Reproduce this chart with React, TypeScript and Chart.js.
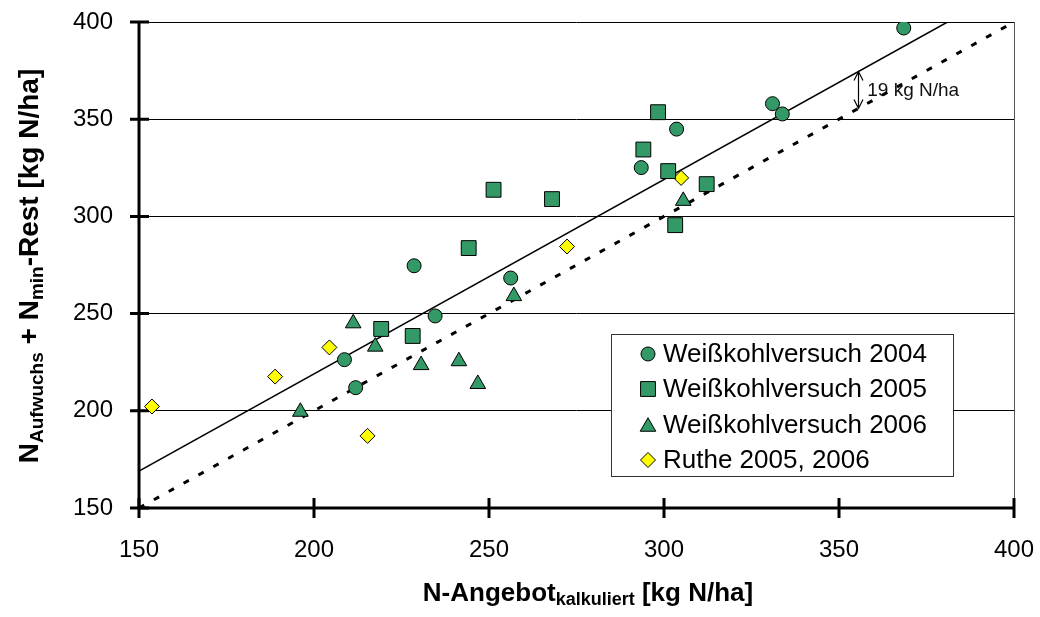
import React, { useEffect, useRef } from 'react';
import { Chart, registerables } from 'chart.js';

Chart.register(...registerables);

const FONT = '"Liberation Sans", Arial, Helvetica, sans-serif';

const axisMin = 150;
const axisMax = 400;
const axisStep = 50;

const seriesLabels = [
  'Weißkohlversuch 2004',
  'Weißkohlversuch 2005',
  'Weißkohlversuch 2006',
  'Ruthe 2005, 2006',
];

const kohl2004X = [368.5, 331.0, 333.8, 303.6, 293.5, 228.6, 256.2, 234.6, 208.7, 211.9];
const kohl2004Y = [396.9, 358.0, 352.7, 344.9, 325.1, 274.6, 268.3, 248.8, 226.3, 211.9];

const kohl2005X = [298.3, 294.1, 301.2, 312.2, 251.3, 268.0, 303.2, 244.2, 219.2, 228.2];
const kohl2005Y = [353.6, 334.4, 323.3, 316.6, 313.7, 308.9, 295.5, 283.7, 242.1, 238.5];

const kohl2006X = [305.5, 257.1, 211.2, 217.5, 230.6, 241.4, 246.8, 196.1];
const kohl2006Y = [308.0, 259.0, 245.0, 233.0, 223.5, 225.5, 213.8, 199.5];

const rutheX = [304.9, 272.3, 204.4, 188.9, 153.7, 215.3];
const rutheY = [319.8, 284.5, 232.6, 217.6, 202.2, 187.1];

const oneToOneX = [150, 400];
const oneToOneY = [150, 400];

const offsetLineX = [150, 381];
const offsetLineY = [169, 400];

const offsetValue = 19;
const offsetArrowX = 355.5;
const offsetLabel = '19 kg N/ha';

const GREEN = '#339966';
const YELLOW = '#FFFF00';

const zip = (xs: number[], ys: number[]) => xs.map((x, i) => ({ x, y: ys[i] }));

const markerStyles = ['circle', 'rect', 'triangle', 'rectRot'];
const markerRadii = [7, 10.5, 9, 7.5];
const markerFills = [GREEN, GREEN, GREEN, YELLOW];

function drawMarker(ctx: CanvasRenderingContext2D, style: string, x: number, y: number, r: number, fill: string) {
  ctx.save();
  ctx.beginPath();
  if (style === 'circle') {
    ctx.arc(x, y, r, 0, Math.PI * 2);
  } else if (style === 'rect') {
    const s = r * Math.SQRT1_2;
    ctx.rect(x - s, y - s, 2 * s, 2 * s);
  } else if (style === 'triangle') {
    const yy = y + r * 0.25;
    const h = r * Math.sin(Math.PI * 2 / 3);
    ctx.moveTo(x, yy - r);
    ctx.lineTo(x + h, yy + r * 0.5);
    ctx.lineTo(x - h, yy + r * 0.5);
    ctx.closePath();
  } else {
    ctx.moveTo(x, y - r);
    ctx.lineTo(x + r, y);
    ctx.lineTo(x, y + r);
    ctx.lineTo(x - r, y);
    ctx.closePath();
  }
  ctx.fillStyle = fill;
  ctx.fill();
  ctx.lineWidth = 1;
  ctx.strokeStyle = '#000';
  ctx.stroke();
  ctx.restore();
}

function drawRuns(ctx: CanvasRenderingContext2D, runs: [string, boolean][], x: number, y: number, mainSize: number, subSize: number, subShift: number, measureOnly = false) {
  let cx = x;
  for (const [t, sub] of runs) {
    ctx.font = `bold ${sub ? subSize : mainSize}px ${FONT}`;
    if (!measureOnly) ctx.fillText(t, cx, sub ? y + subShift : y);
    cx += ctx.measureText(t).width;
  }
  return cx - x;
}

const zeroPadding = (s: any) => {
  s.paddingTop = 0;
  s.paddingBottom = 0;
  s.paddingLeft = 0;
  s.paddingRight = 0;
};

const decorPlugin = {
  id: 'decor',
  beforeDatasetsDraw(chart: any) {
    const { ctx, chartArea: a, scales } = chart;
    const xs = scales.x;
    const ys = scales.y;
    ctx.save();
    ctx.strokeStyle = '#555';
    ctx.lineWidth = 1;
    ctx.beginPath();
    ctx.moveTo(a.right + 0.5, a.top);
    ctx.lineTo(a.right + 0.5, a.bottom);
    ctx.stroke();

    ctx.fillStyle = '#111';
    ctx.font = `19px ${FONT}`;
    ctx.textAlign = 'left';
    ctx.textBaseline = 'alphabetic';
    const ax = xs.getPixelForValue(offsetArrowX);
    const yTop = ys.getPixelForValue(offsetArrowX + offsetValue);
    const yBot = ys.getPixelForValue(offsetArrowX);
    ctx.fillText(offsetLabel, ax + 9, (yTop + yBot) / 2 + 6);

    ctx.strokeStyle = '#000';
    ctx.lineWidth = 3;
    ctx.beginPath();
    ctx.moveTo(a.left, a.top);
    ctx.lineTo(a.left, a.bottom);
    ctx.moveTo(a.left - 1.5, a.bottom);
    ctx.lineTo(a.right, a.bottom);
    ctx.stroke();
    ctx.beginPath();
    for (let v = axisMin; v <= axisMax; v += axisStep) {
      const py = ys.getPixelForValue(v);
      ctx.moveTo(a.left - 9, py);
      ctx.lineTo(a.left + 10, py);
      const px = xs.getPixelForValue(v);
      ctx.moveTo(px, a.bottom - 10);
      ctx.lineTo(px, a.bottom + 10);
    }
    ctx.stroke();
    ctx.restore();
  },
  afterDatasetsDraw(chart: any) {
    const { ctx, scales } = chart;
    const xs = scales.x;
    const ys = scales.y;
    ctx.save();

    const ax = Math.round(xs.getPixelForValue(offsetArrowX)) + 0.5;
    const yTop = ys.getPixelForValue(offsetArrowX + offsetValue);
    const yBot = ys.getPixelForValue(offsetArrowX);
    ctx.strokeStyle = '#000';
    ctx.lineWidth = 1.2;
    ctx.beginPath();
    ctx.moveTo(ax, yTop);
    ctx.lineTo(ax, yBot);
    ctx.moveTo(ax - 4.5, yTop + 9);
    ctx.lineTo(ax, yTop);
    ctx.lineTo(ax + 4.5, yTop + 9);
    ctx.moveTo(ax - 4.5, yBot - 9);
    ctx.lineTo(ax, yBot);
    ctx.lineTo(ax + 4.5, yBot - 9);
    ctx.stroke();

    // legend
    const lx = 611, ly = 334, lw = 342, lh = 142;
    ctx.fillStyle = '#fff';
    ctx.fillRect(lx, ly, lw, lh);
    ctx.strokeStyle = '#333';
    ctx.lineWidth = 1;
    ctx.strokeRect(lx + 0.5, ly + 0.5, lw, lh);
    const rows = [354, 389, 424.5, 460];
    ctx.textAlign = 'left';
    ctx.textBaseline = 'middle';
    seriesLabels.forEach((lab, i) => {
      drawMarker(ctx, markerStyles[i], 648, rows[i], markerRadii[i], markerFills[i]);
      ctx.fillStyle = '#000';
      ctx.font = `26px ${FONT}`;
      ctx.fillText(lab, 663, rows[i] + 1);
    });

    // axis titles
    ctx.fillStyle = '#000';
    ctx.textBaseline = 'alphabetic';
    ctx.textAlign = 'left';
    const xRuns: [string, boolean][] = [['N-Angebot', false], ['kalkuliert', true], [' [kg N/ha]', false]];
    const wX = drawRuns(ctx, xRuns, 0, 0, 26, 18, 4, true);
    drawRuns(ctx, xRuns, 588 - wX / 2, 601, 26, 18, 4);

    const yRuns: [string, boolean][] = [['N', false], ['Aufwuchs', true], [' + N', false], ['min', true], ['-Rest [kg N/ha]', false]];
    const wY = drawRuns(ctx, yRuns, 0, 0, 28, 19, 5, true);
    ctx.save();
    ctx.translate(38, 266);
    ctx.rotate(-Math.PI / 2);
    drawRuns(ctx, yRuns, -wY / 2, 0, 28, 19, 5);
    ctx.restore();

    ctx.restore();
  },
};

export default function App() {
  const ref = useRef<HTMLCanvasElement | null>(null);
  useEffect(() => {
    if (!ref.current) return;
    const pointDs = (i: number, xs: number[], ys: number[]) => ({
      type: 'scatter' as const,
      label: seriesLabels[i],
      data: zip(xs, ys),
      pointStyle: markerStyles[i],
      pointRadius: markerRadii[i],
      pointHoverRadius: markerRadii[i],
      pointBackgroundColor: markerFills[i],
      pointBorderColor: '#000',
      pointBorderWidth: 1,
      showLine: false,
    });
    const chart = new Chart(ref.current, {
      type: 'scatter',
      data: {
        datasets: [
          pointDs(0, kohl2004X, kohl2004Y),
          pointDs(1, kohl2005X, kohl2005Y),
          pointDs(2, kohl2006X, kohl2006Y),
          pointDs(3, rutheX, rutheY),
          {
            label: 'offset',
            data: zip(offsetLineX, offsetLineY),
            showLine: true,
            borderColor: '#000',
            borderWidth: 1.5,
            pointRadius: 0,
            fill: false,
          },
          {
            label: '1:1',
            data: zip(oneToOneX, oneToOneY),
            showLine: true,
            borderColor: '#000',
            borderWidth: 3,
            borderDash: [6, 11],
            pointRadius: 0,
            fill: false,
          },
        ] as any,
      },
      options: {
        animation: false,
        responsive: true,
        maintainAspectRatio: false,
        layout: { padding: { left: 0, top: 22, right: 26, bottom: 0 } },
        plugins: {
          legend: { display: false },
          tooltip: { enabled: false },
        },
        scales: {
          x: {
            type: 'linear',
            min: axisMin,
            max: axisMax,
            afterFit: (s: any) => { s.height = 109; zeroPadding(s); },
            ticks: {
              stepSize: axisStep,
              color: '#000',
              font: { size: 24, family: FONT },
              padding: 28,
              maxRotation: 0,
            },
            grid: { display: false, drawTicks: false },
            border: { display: false },
          },
          y: {
            type: 'linear',
            min: axisMin,
            max: axisMax,
            afterFit: (s: any) => { s.width = 139; zeroPadding(s); },
            ticks: {
              stepSize: axisStep,
              color: '#000',
              font: { size: 24, family: FONT },
              padding: 26,
            },
            grid: { color: '#000', lineWidth: 1, drawTicks: false },
            border: { display: false },
          },
        },
      } as any,
      plugins: [decorPlugin],
    });
    return () => chart.destroy();
  }, []);
  return (
    <div style={{ position: 'fixed', left: 0, top: 0, width: 1040, height: 617, background: '#fff' }}>
      <canvas ref={ref} />
    </div>
  );
}
